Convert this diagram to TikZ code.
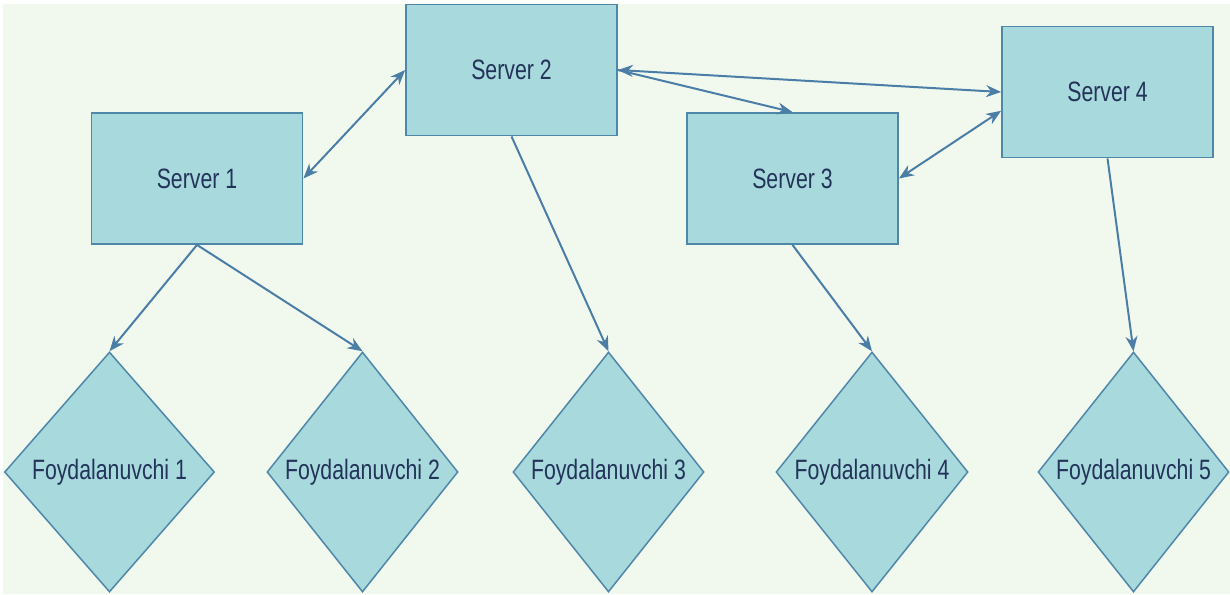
\documentclass[tikz,border=0pt]{standalone}
\usepackage{fontspec}
\setmainfont{Liberation Sans}[FakeStretch=0.76]
\usetikzlibrary{shapes.geometric,arrows.meta}
\definecolor{bgGreen}{HTML}{F1F9EF}
\definecolor{boxFill}{HTML}{A8D9DC}
\definecolor{boxLine}{HTML}{4F87A8}
\definecolor{arrowBlue}{HTML}{4A7EA6}
\definecolor{textNavy}{HTML}{23345A}

\begin{document}
\begin{tikzpicture}
[x=1pt,y=-1pt,
  linkArrow/.style={->,>={Stealth[length=15pt,width=12pt]},line width=2pt,color=arrowBlue},%
  bothArrow/.style={linkArrow,<->},%
  serverBox/.style={shape=rectangle,draw=boxLine,fill=boxFill,line width=1.8pt,
    minimum width=211pt,minimum height=131pt,inner sep=0pt},%
  userDiamond/.style={shape=diamond,draw=boxLine,fill=boxFill,line width=1.5pt,
    minimum height=240pt,inner sep=0pt},%
  font=\fontsize{28}{32}\selectfont\color{textNavy}]
\useasboundingbox (0,0) rectangle (1230,594);
\fill[white] (0,0) rectangle (1230,594);
\fill[bgGreen] (3,4) rectangle (1230,594);
%% servers
\foreach \nodename/\x/\y in {s1/197/178.5, s2/511.5/70, s3/792.5/178.5, s4/1107.5/92}
{
  \node (\nodename) at (\x,\y) [serverBox] {};
}
\node at (s1) {Server 1};
\node at (s2) {Server 2};
\node at (s3) {Server 3};
\node at (s4) {Server 4};
%% users
\foreach \nodename/\x/\w/\num in {f1/109.5/210/1, f2/362.5/191/2, f3/608.5/191/3,
  f4/872/192/4, f5/1133.5/191/5}
{
  \node (\nodename) at (\x,472) [userDiamond,minimum width=\w pt] {Foydalanuvchi \num};
}
%% server links
\path
\foreach \startnode/\endnode in {s1.east/s2.west, s2.east/s4.west, s3.east/s4.190}
{
  (\startnode) edge[bothArrow] node {} (\endnode)
}
%% down links
\foreach \startnode/\endnode in {s2.east/s3.north, s1.south/f1.north, s1.south/f2.north,
  s2.south/f3.north, s3.south/f4.north, s4.south/f5.north}
{
  (\startnode) edge[linkArrow] node {} (\endnode)
};
\end{tikzpicture}
\end{document}
